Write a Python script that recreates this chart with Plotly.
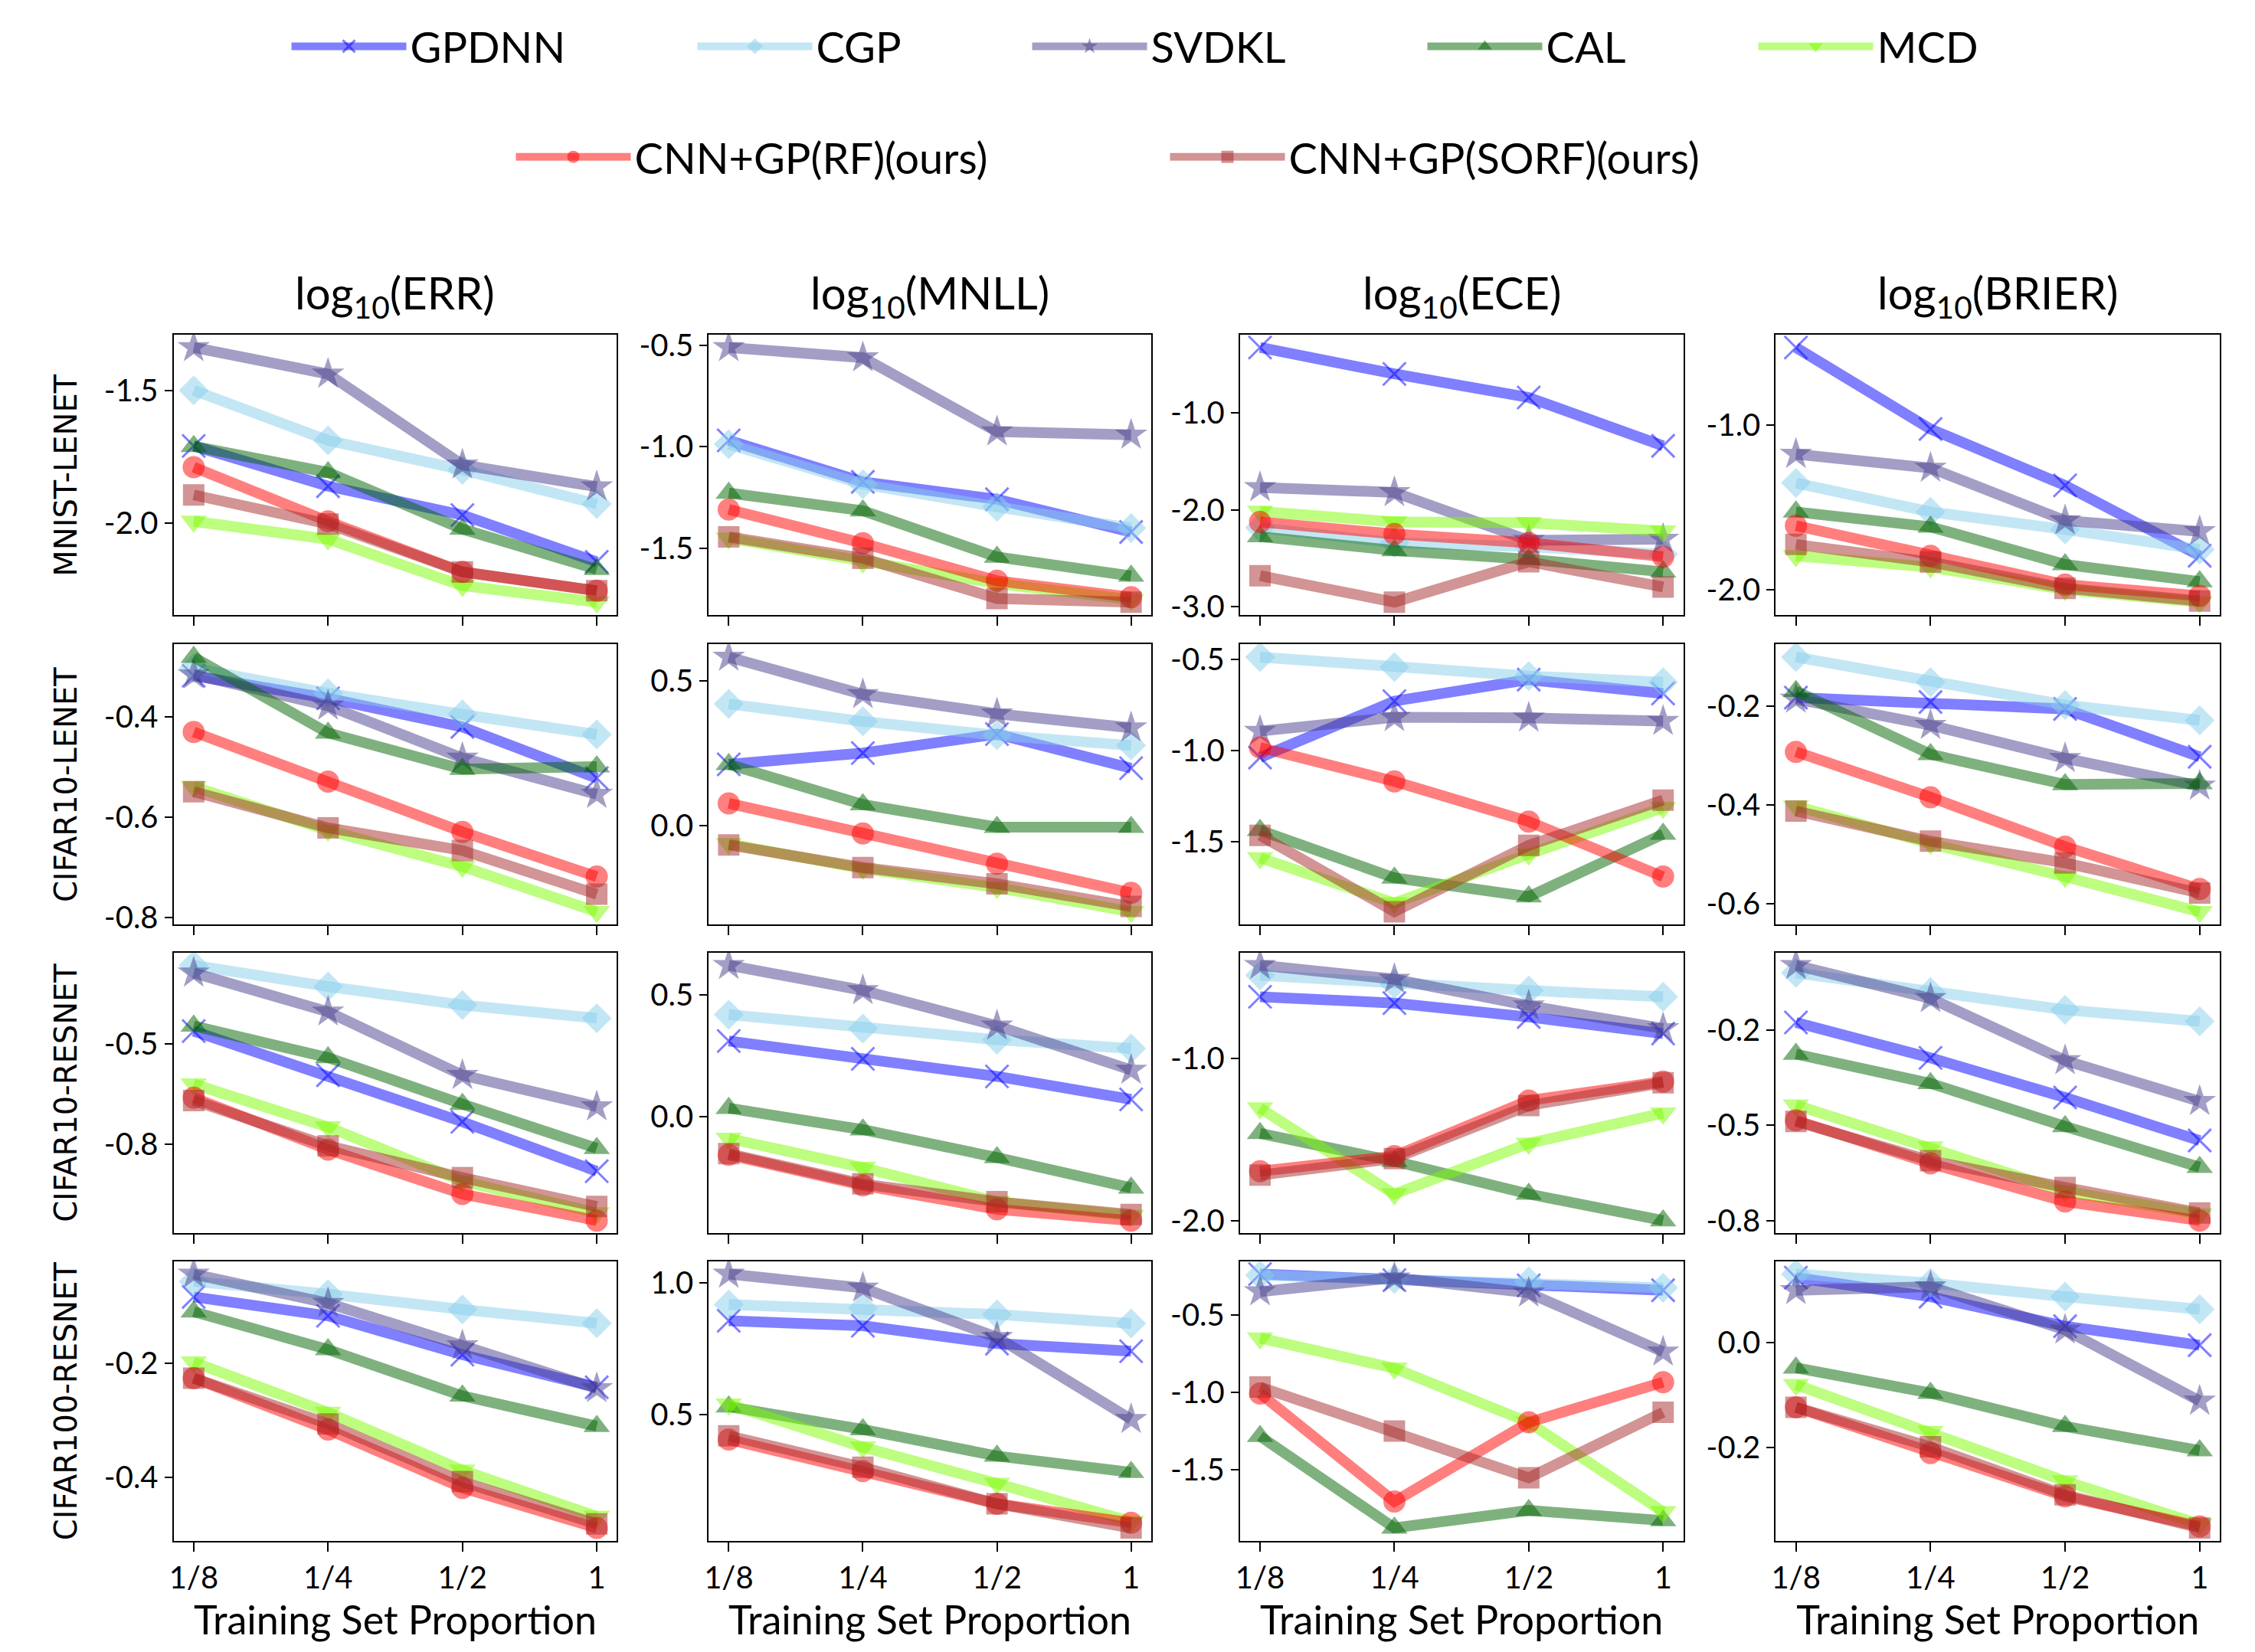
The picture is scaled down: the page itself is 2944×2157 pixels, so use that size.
import plotly.graph_objects as go

# ---------------- data ----------------
X_LABELS = ["1/8", "1/4", "1/2", "1"]
METRICS = ["ERR", "MNLL", "ECE", "BRIER"]
DATASETS = ["MNIST-LENET", "CIFAR10-LENET", "CIFAR10-RESNET", "CIFAR100-RESNET"]
METHODS = ["GPDNN", "CGP", "SVDKL", "CAL", "MCD", "CNN+GP(RF)(ours)", "CNN+GP(SORF)(ours)"]

# each list: 16 panels in row-major order (dataset rows x metric columns), 4 proportions each
GPDNN = [
    [-1.71, -1.862, -1.971, -2.148], [-0.969, -1.173, -1.259, -1.42], [-0.323, -0.596, -0.839, -1.339], [-0.527, -1.023, -1.366, -1.794],
    [-0.318, -0.363, -0.42, -0.522], [0.212, 0.251, 0.316, 0.199], [-1.038, -0.728, -0.61, -0.686], [-0.182, -0.191, -0.205, -0.302],
    [-0.469, -0.579, -0.695, -0.818], [0.311, 0.238, 0.166, 0.072], [-0.617, -0.656, -0.742, -0.844], [-0.23, -0.323, -0.427, -0.54],
    [-0.084, -0.117, -0.185, -0.242], [0.856, 0.837, 0.769, 0.74], [-0.235, -0.275, -0.308, -0.34], [0.123, 0.087, 0.031, -0.005],
]
CGP = [
    [-1.5, -1.689, -1.80, -1.929], [-0.988, -1.185, -1.296, -1.401], [-2.185, -2.341, -2.38, -2.458], [-1.351, -1.527, -1.634, -1.756],
    [-0.303, -0.353, -0.395, -0.435], [0.42, 0.36, 0.312, 0.277], [-0.486, -0.541, -0.59, -0.624], [-0.1, -0.151, -0.197, -0.228],
    [-0.305, -0.358, -0.404, -0.437], [0.419, 0.362, 0.316, 0.28], [-0.484, -0.539, -0.578, -0.617], [-0.1, -0.15, -0.197, -0.227],
    [-0.057, -0.079, -0.106, -0.13], [0.918, 0.904, 0.88, 0.846], [-0.243, -0.267, -0.283, -0.324], [0.13, 0.113, 0.087, 0.063],
]
SVDKL = [
    [-1.338, -1.438, -1.781, -1.864], [-0.512, -0.562, -0.926, -0.942], [-1.768, -1.82, -2.315, -2.302], [-1.176, -1.26, -1.58, -1.646],
    [-0.316, -0.378, -0.482, -0.554], [0.581, 0.453, 0.386, 0.338], [-0.893, -0.817, -0.82, -0.838], [-0.185, -0.238, -0.305, -0.361],
    [-0.324, -0.421, -0.579, -0.657], [0.621, 0.518, 0.373, 0.192], [-0.422, -0.508, -0.672, -0.813], [-0.08, -0.167, -0.33, -0.437],
    [-0.044, -0.095, -0.169, -0.244], [1.034, 0.981, 0.793, 0.481], [-0.349, -0.259, -0.357, -0.739], [0.099, 0.106, 0.024, -0.111],
]
CAL = [
    [-1.711, -1.81, -2.024, -2.176], [-1.228, -1.315, -1.543, -1.636], [-2.276, -2.419, -2.51, -2.64], [-1.527, -1.618, -1.847, -1.951],
    [-0.281, -0.432, -0.504, -0.499], [0.212, 0.074, -0.004, -0.004], [-1.438, -1.70, -1.803, -1.459], [-0.169, -0.297, -0.358, -0.356],
    [-0.456, -0.535, -0.651, -0.761], [0.036, -0.052, -0.166, -0.29], [-1.461, -1.633, -1.836, -2.0], [-0.313, -0.39, -0.503, -0.61],
    [-0.11, -0.176, -0.257, -0.31], [0.529, 0.442, 0.341, 0.279], [-1.285, -1.879, -1.765, -1.831], [-0.048, -0.096, -0.159, -0.205],
]
MCD = [
    [-1.995, -2.062, -2.238, -2.30], [-1.451, -1.568, -1.673, -1.753], [-2.016, -2.125, -2.133, -2.219], [-1.794, -1.863, -2.0, -2.076],
    [-0.539, -0.626, -0.698, -0.788], [-0.061, -0.147, -0.212, -0.295], [-1.59, -1.838, -1.569, -1.314], [-0.402, -0.478, -0.545, -0.616],
    [-0.601, -0.708, -0.843, -0.922], [-0.088, -0.207, -0.347, -0.404], [-1.305, -1.836, -1.523, -1.336], [-0.447, -0.557, -0.673, -0.733],
    [-0.198, -0.286, -0.387, -0.468], [0.538, 0.375, 0.236, 0.091], [-0.65, -0.845, -1.195, -1.774], [-0.08, -0.169, -0.263, -0.345],
]
RF = [
    [-1.79, -1.995, -2.186, -2.257], [-1.309, -1.475, -1.66, -1.741], [-2.125, -2.25, -2.341, -2.484], [-1.611, -1.794, -1.969, -2.038],
    [-0.43, -0.529, -0.629, -0.718], [0.078, -0.026, -0.13, -0.23], [-0.983, -1.169, -1.39, -1.693], [-0.292, -0.384, -0.484, -0.57],
    [-0.635, -0.764, -0.875, -0.941], [-0.155, -0.28, -0.378, -0.424], [-1.695, -1.602, -1.258, -1.141], [-0.487, -0.6, -0.7, -0.75],
    [-0.226, -0.316, -0.418, -0.488], [0.404, 0.284, 0.159, 0.087], [-1.008, -1.708, -1.195, -0.935], [-0.123, -0.21, -0.292, -0.349],
]
SORF = [
    [-1.895, -2.005, -2.186, -2.257], [-1.444, -1.549, -1.747, -1.765], [-2.68, -2.953, -2.536, -2.797], [-1.725, -1.832, -1.992, -2.069],
    [-0.549, -0.621, -0.666, -0.753], [-0.065, -0.143, -0.199, -0.277], [-1.466, -1.886, -1.521, -1.272], [-0.412, -0.473, -0.517, -0.578],
    [-0.642, -0.755, -0.834, -0.906], [-0.15, -0.274, -0.347, -0.399], [-1.719, -1.617, -1.289, -1.148], [-0.49, -0.593, -0.663, -0.73],
    [-0.226, -0.306, -0.407, -0.481], [0.418, 0.298, 0.159, 0.067], [-0.967, -1.252, -1.554, -1.13], [-0.123, -0.198, -0.289, -0.352],
]

Y_TICKVALS = [
    [-1.5, -2.0], [-0.5, -1.0, -1.5], [-1.0, -2.0, -3.0], [-1.0, -2.0],
    [-0.4, -0.6, -0.8], [0.5, 0.0], [-0.5, -1.0, -1.5], [-0.2, -0.4, -0.6],
    [-0.25, -0.5, -0.75], [0.5, 0.0], [-1.0, -2.0], [-0.25, -0.5, -0.75],
    [-0.2, -0.4], [1.0, 0.5], [-0.5, -1.0, -1.5], [0.0, -0.2],
]
Y_TICKTEXT = [
    ["-1.5", "-2.0"], ["-0.5", "-1.0", "-1.5"], ["-1.0", "-2.0", "-3.0"], ["-1.0", "-2.0"],
    ["-0.4", "-0.6", "-0.8"], ["0.5", "0.0"], ["-0.5", "-1.0", "-1.5"], ["-0.2", "-0.4", "-0.6"],
    ["-0.2", "-0.5", "-0.8"], ["0.5", "0.0"], ["-1.0", "-2.0"], ["-0.2", "-0.5", "-0.8"],
    ["-0.2", "-0.4"], ["1.0", "0.5"], ["-0.5", "-1.0", "-1.5"], ["0.0", "-0.2"],
]

SERIES = [GPDNN, CGP, SVDKL, CAL, MCD, RF, SORF]

# ---------------- styles ----------------
COLORS = [
    "rgba(0,0,255,0.5)", "rgba(135,206,235,0.5)", "rgba(72,61,139,0.5)", "rgba(0,100,0,0.5)",
    "rgba(124,252,0,0.5)", "rgba(255,0,0,0.5)", "rgba(165,42,42,0.5)",
]
SYMBOLS = ["x-thin-open", "diamond", "star", "triangle-up", "triangle-down", "circle", "square"]
MSIZE = [30, 30, 32, 30, 30, 29, 28]
LEGEND_OF = ["legend"] * 5 + ["legend2"] * 2
LEGEND_W = [365, 272, 351, 267, 135, 689, 610]   # legend entry widths (px)

W, H = 2944, 2157
COL_X = [(213, 793), (913, 1492), (1608, 2188), (2309, 2890)]
ROW_Y = [(423, 793), (832, 1202), (1239, 1610), (1647, 2016)]
FONT = "Lato"

fig = go.Figure()
annotations = []

for r in range(4):
    for c in range(4):
        p = r * 4 + c
        k = p + 1
        xa = "x" if k == 1 else f"x{k}"
        ya = "y" if k == 1 else f"y{k}"
        vals = []
        for m, series in enumerate(SERIES):
            yv = series[p]
            vals += yv
            is_x = SYMBOLS[m].startswith("x")
            fig.add_trace(go.Scatter(
                x=X_LABELS, y=yv, mode="lines+markers", name=METHODS[m],
                legendgroup=METHODS[m], showlegend=(p == 0), legend=LEGEND_OF[m],
                legendwidth=LEGEND_W[m],
                xaxis=xa, yaxis=ya,
                line=dict(color=COLORS[m], width=14),
                marker=dict(symbol=SYMBOLS[m], size=MSIZE[m], color=COLORS[m],
                            line=dict(width=3 if is_x else 0, color=COLORS[m])),
            ))
        lo, hi = min(vals), max(vals)
        pad = 0.05 * (hi - lo)
        x0, x1 = COL_X[c]
        y0, y1 = ROW_Y[r]
        xkey = "xaxis" if k == 1 else f"xaxis{k}"
        ykey = "yaxis" if k == 1 else f"yaxis{k}"
        fig.layout[xkey] = dict(
            domain=[x0 / W, x1 / W], anchor=ya, type="category",
            range=[-0.15, 3.15], showline=True, mirror=True, linecolor="black", linewidth=2,
            ticks="outside", ticklen=12, tickwidth=2, tickcolor="black",
            showgrid=False, zeroline=False, showticklabels=(r == 3),
            tickfont=dict(family=FONT, size=40, color="black"),
            title=dict(text="Training Set Proportion" if r == 3 else "",
                       font=dict(family=FONT, size=52, color="black"), standoff=12),
        )
        fig.layout[ykey] = dict(
            domain=[1 - y1 / H, 1 - y0 / H], anchor=xa,
            range=[lo - pad, hi + pad], showline=True, mirror=True, linecolor="black", linewidth=2,
            ticks="outside", ticklen=10, tickwidth=2, tickcolor="black",
            showgrid=False, zeroline=False,
            tickvals=Y_TICKVALS[p], ticktext=Y_TICKTEXT[p],
            tickfont=dict(family=FONT, size=40, color="black"),
        )
        if r == 0:
            annotations.append(dict(
                text=f"log<sub>10</sub>({METRICS[c]})", xref="paper", yref="paper",
                x=(x0 + x1) / 2 / W, y=1 - y0 / H, xanchor="center", yanchor="bottom",
                yshift=10, showarrow=False, font=dict(family=FONT, size=58, color="black"),
            ))
        if c == 0:
            annotations.append(dict(
                text=DATASETS[r], xref="paper", yref="paper",
                x=72 / W, y=1 - (y0 + y1) / 2 / H, xanchor="center", yanchor="middle",
                textangle=-90, showarrow=False,
                font=dict(family="DejaVu Sans", size=40, color="black"),
            ))

fig.update_layout(
    width=W, height=H, margin=dict(l=0, r=0, t=0, b=0),
    paper_bgcolor="white", plot_bgcolor="white",
    annotations=annotations,
    legend=dict(orientation="h", x=0.5, xanchor="center", y=1 - 42 / H, yanchor="middle",
                font=dict(family=FONT, size=56, color="black"), itemwidth=150,
                bgcolor="rgba(0,0,0,0)", tracegroupgap=0),
    legend2=dict(orientation="h", x=0.5, xanchor="center", y=1 - 188 / H, yanchor="middle",
                 font=dict(family=FONT, size=56, color="black"), itemwidth=150,
                 bgcolor="rgba(0,0,0,0)", tracegroupgap=0),
)

fig.write_html("out.html")
